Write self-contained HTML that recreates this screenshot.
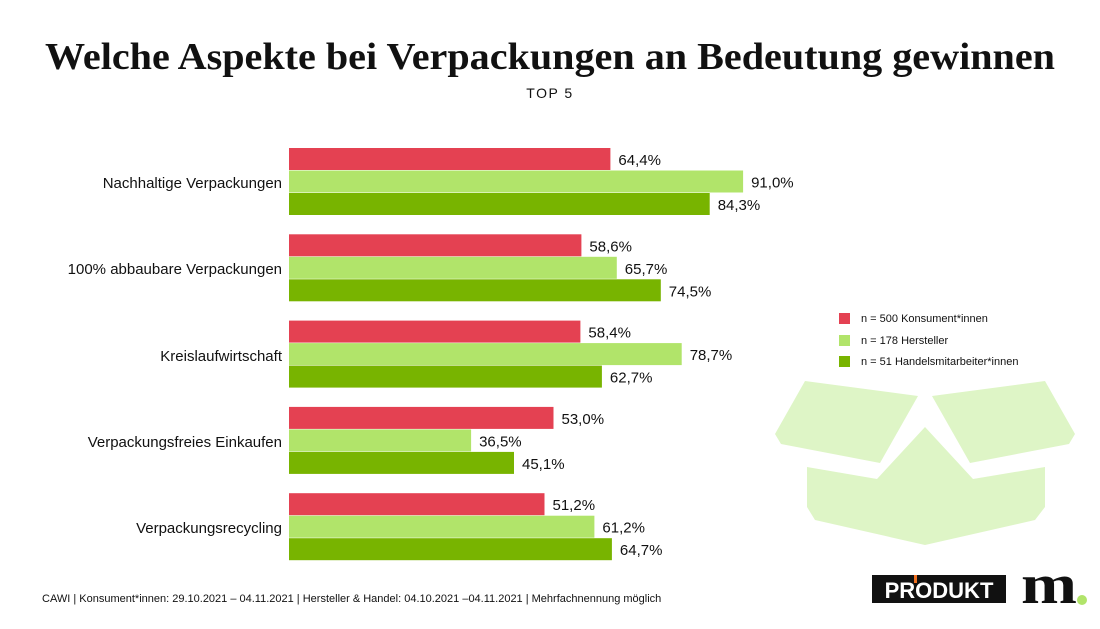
<!DOCTYPE html>
<html><head><meta charset="utf-8"><style>
body{margin:0;background:#fff;}
svg{display:block}
</style></head><body>
<svg width="1100" height="629" viewBox="0 0 1100 629" xmlns="http://www.w3.org/2000/svg" font-family="Liberation Sans, sans-serif">
<text x="550" y="69" text-anchor="middle" font-family="Liberation Serif, serif" font-weight="bold" font-size="38" fill="#111" textLength="1010" lengthAdjust="spacingAndGlyphs">Welche Aspekte bei Verpackungen an Bedeutung gewinnen</text>
<text x="550" y="98" text-anchor="middle" font-size="14" fill="#111" letter-spacing="1.5">TOP 5</text>
<g fill="#def5c6">
<polygon points="805,381 918,396 880,463 781,444 775,434"/>
<polygon points="932,396 1045,381 1075,434 1069,444 970,463"/>
<polygon points="807,467 877,479 925,427 973,479 1045,467 1045,507 1035,520 925,545 815,520 807,507"/>
</g>
<g font-size="15" fill="#111">
<text x="282" y="188" text-anchor="end">Nachhaltige Verpackungen</text>
<text x="282" y="274" text-anchor="end">100% abbaubare Verpackungen</text>
<text x="282" y="361" text-anchor="end">Kreislaufwirtschaft</text>
<text x="282" y="447" text-anchor="end">Verpackungsfreies Einkaufen</text>
<text x="282" y="533" text-anchor="end">Verpackungsrecycling</text>
</g>
<g>
<rect x="289" y="148" width="321.4" height="22" fill="#e44152"/>
<rect x="289" y="170.5" width="454.1" height="22" fill="#b1e46a"/>
<rect x="289" y="193" width="420.7" height="22" fill="#78b400"/>
<rect x="289" y="234.3" width="292.4" height="22" fill="#e44152"/>
<rect x="289" y="256.8" width="327.8" height="22" fill="#b1e46a"/>
<rect x="289" y="279.3" width="371.8" height="22" fill="#78b400"/>
<rect x="289" y="320.6" width="291.4" height="22" fill="#e44152"/>
<rect x="289" y="343.1" width="392.7" height="22" fill="#b1e46a"/>
<rect x="289" y="365.6" width="312.9" height="22" fill="#78b400"/>
<rect x="289" y="406.9" width="264.5" height="22" fill="#e44152"/>
<rect x="289" y="429.4" width="182.1" height="22" fill="#b1e46a"/>
<rect x="289" y="451.9" width="225.0" height="22" fill="#78b400"/>
<rect x="289" y="493.2" width="255.5" height="22" fill="#e44152"/>
<rect x="289" y="515.7" width="305.4" height="22" fill="#b1e46a"/>
<rect x="289" y="538.2" width="322.9" height="22" fill="#78b400"/>
</g>
<g font-size="15" fill="#111">
<text x="618.4" y="165">64,4%</text>
<text x="751.1" y="187.5">91,0%</text>
<text x="717.7" y="210">84,3%</text>
<text x="589.4" y="251.3">58,6%</text>
<text x="624.8" y="273.8">65,7%</text>
<text x="668.8" y="296.3">74,5%</text>
<text x="588.4" y="337.6">58,4%</text>
<text x="689.7" y="360.1">78,7%</text>
<text x="609.9" y="382.6">62,7%</text>
<text x="561.5" y="423.9">53,0%</text>
<text x="479.1" y="446.4">36,5%</text>
<text x="522.0" y="468.9">45,1%</text>
<text x="552.5" y="510.2">51,2%</text>
<text x="602.4" y="532.7">61,2%</text>
<text x="619.9" y="555.2">64,7%</text>
</g>
<g font-size="11" fill="#111">
<rect x="839" y="313" width="11" height="11" fill="#e44152"/><text x="861" y="322">n = 500 Konsument*innen</text>
<rect x="839" y="335" width="11" height="11" fill="#b1e46a"/><text x="861" y="344">n = 178 Hersteller</text>
<rect x="839" y="356" width="11" height="11" fill="#78b400"/><text x="861" y="365">n = 51 Handelsmitarbeiter*innen</text>
</g>
<text x="42" y="602" font-size="11" fill="#111">CAWI | Konsument*innen: 29.10.2021 – 04.11.2021 | Hersteller &amp; Handel: 04.10.2021 –04.11.2021 | Mehrfachnennung möglich</text>
<rect x="872" y="575" width="134" height="28" fill="#111"/>
<text x="939" y="598" text-anchor="middle" font-size="22" font-weight="bold" fill="#fff">PRODUKT</text>
<rect x="914" y="575" width="3" height="8" fill="#f07020"/>
<text x="1021" y="603" font-family="Liberation Serif, serif" font-weight="bold" font-size="56" fill="#111" textLength="56" lengthAdjust="spacingAndGlyphs">m</text>
<circle cx="1082" cy="600" r="5" fill="#b1e46a"/>
</svg>
</body></html>
